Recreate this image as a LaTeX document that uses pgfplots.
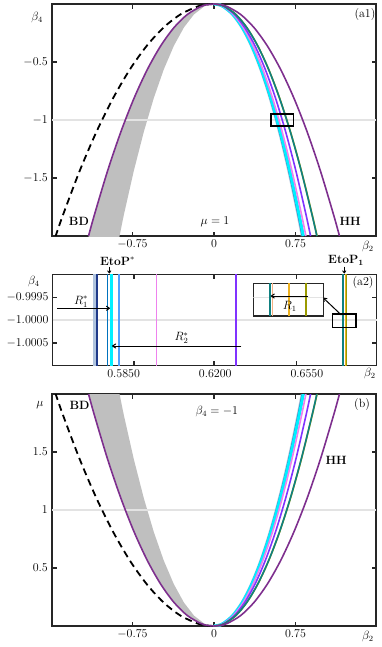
\documentclass[border=0pt]{standalone}
\usepackage{pgfplots}
\pgfplotsset{compat=1.18}
\usepackage{pgfplotstable}
\usetikzlibrary{arrows.meta}
\definecolor{axc}{HTML}{262626}
\definecolor{hhc}{HTML}{7E2F8E}
\definecolor{tealc}{HTML}{0F8080}
\definecolor{bvc}{HTML}{8033FF}
\definecolor{violc}{HTML}{EE82EE}
\definecolor{cyanc}{HTML}{00F0FF}
\definecolor{cornc}{HTML}{4D9FFF}
\definecolor{bluec}{HTML}{0072BD}
\definecolor{navyc}{HTML}{1F3A8A}
\definecolor{lsbc}{HTML}{B0C4DE}
\definecolor{orc}{HTML}{EDB120}
\definecolor{salc}{HTML}{F4B183}
\definecolor{olc}{HTML}{9A9A00}
\definecolor{gridc}{HTML}{E3E3E3}
\definecolor{bandc}{HTML}{BFBFBF}
\newcommand{\fs}{\fontsize{12}{14.4}\selectfont}
\pgfplotsset{
 panel/.style={scale only axis, width=324pt, anchor=south west,
   axis line style={draw=axc,line width=1.3pt},
   tick style={draw=axc,line width=1.3pt}, major tick length=4.5pt, tick align=inside,
   every tick label/.append style={font=\fs}, label style={font=\fs},
   ylabel style={rotate=-90, anchor=center}, xlabel style={anchor=center}},
 lw/.style={line width=1.6pt},
}
\pgfplotstableread{
b4 mu bd hhL grL lsb navy blue cyan corn viol bv teal olive hhR
0 0 0 0 0 0 0 0 0 0 0 0 0 0 0
-0.005625 0.005625 -0.0773 -0.0612 -0.0461 0.0430 0.0431 0.0434 0.0435 0.0437 0.0448 0.0471 0.0502 0.0503 0.0612
-0.0225 0.0225 -0.1545 -0.1224 -0.0923 0.0861 0.0862 0.0868 0.0871 0.0875 0.0896 0.0942 0.1003 0.1005 0.1224
-0.09 0.09 -0.3090 -0.2448 -0.1845 0.1721 0.1725 0.1737 0.1741 0.1750 0.1793 0.1884 0.2006 0.2010 0.2448
-0.2025 0.2025 -0.4635 -0.3672 -0.2768 0.2582 0.2587 0.2605 0.2612 0.2625 0.2689 0.2826 0.3010 0.3015 0.3672
-0.36 0.36 -0.6180 -0.4896 -0.3690 0.3443 0.3449 0.3473 0.3482 0.3500 0.3586 0.3767 0.4013 0.4021 0.4896
-0.5625 0.5625 -0.7725 -0.6120 -0.4613 0.4304 0.4312 0.4342 0.4353 0.4375 0.4482 0.4709 0.5016 0.5026 0.6120
-0.81 0.81 -0.9270 -0.7344 -0.5535 0.5164 0.5174 0.5210 0.5224 0.5250 0.5378 0.5651 0.6019 0.6031 0.7344
-1.1025 1.1025 -1.0815 -0.8568 -0.6458 0.6025 0.6036 0.6078 0.6094 0.6125 0.6275 0.6593 0.7022 0.7036 0.8568
-1.44 1.44 -1.2360 -0.9792 -0.7380 0.6886 0.6899 0.6947 0.6965 0.7000 0.7171 0.7535 0.8026 0.8041 0.9792
-1.8225 1.8225 -1.3905 -1.1016 -0.8303 0.7746 0.7761 0.7815 0.7835 0.7875 0.8068 0.8477 0.9029 0.9046 1.1016
-2 2 -1.4566 -1.1540 -0.8697 0.8115 0.8130 0.8187 0.8208 0.8249 0.8451 0.8880 0.9458 0.9477 1.1540
}\curves
% grey band: outer edge (HH, left) going down, inner edge coming back up
\pgfplotstableread{
x b4 mu
0 0 0
-0.0612 -0.005625 0.005625
-0.1224 -0.0225 0.0225
-0.2448 -0.09 0.09
-0.3672 -0.2025 0.2025
-0.4896 -0.36 0.36
-0.6120 -0.5625 0.5625
-0.7344 -0.81 0.81
-0.8568 -1.1025 1.1025
-0.9792 -1.44 1.44
-1.1016 -1.8225 1.8225
-1.2240 -2.25 2.25
-0.9225 -2.25 2.25
-0.8303 -1.8225 1.8225
-0.7380 -1.44 1.44
-0.6458 -1.1025 1.1025
-0.5535 -0.81 0.81
-0.4613 -0.5625 0.5625
-0.3690 -0.36 0.36
-0.2768 -0.2025 0.2025
-0.1845 -0.09 0.09
-0.0923 -0.0225 0.0225
-0.0461 -0.005625 0.005625
0 0 0
}\band
\begin{document}
\fs
\begin{tikzpicture}
\path (0,0) rectangle (382pt,-647pt);
% ---------------- (a1)
\begin{axis}[panel, at={(52pt,-236pt)}, height=232pt,
  xmin=-1.49, xmax=1.49, ymin=-2, ymax=0,
  xtick={-0.75,0,0.75}, ytick={-1.5,-1,-0.5},
  xlabel={$\beta_2$}, ylabel={$\beta_4$},
  xlabel style={at={(axis description cs:0.975,-0.045)}},
  ylabel style={at={(axis description cs:-0.046,0.94)}}]
\addplot[fill=bandc, draw=none] table[x=x,y=b4]{\band} -- cycle;
\draw[gridc, line width=1.8pt] (axis cs:-1.49,-1) -- (axis cs:1.49,-1);
\addplot[black, line width=1.8pt, dash pattern=on 7pt off 4.5pt, smooth] table[x=bd,y=b4]{\curves};
\addplot[hhc, lw, smooth] table[x=hhL,y=b4]{\curves};
\addplot[lsbc, line width=3pt, smooth] table[x=lsb,y=b4]{\curves};
\addplot[navyc, lw, smooth] table[x=navy,y=b4]{\curves};
\addplot[bluec, lw, smooth] table[x=blue,y=b4]{\curves};
\addplot[cornc, lw, smooth] table[x=corn,y=b4]{\curves};
\addplot[cyanc, line width=3pt, smooth] table[x=cyan,y=b4]{\curves};
\addplot[violc, lw, smooth] table[x=viol,y=b4]{\curves};
\addplot[bvc, lw, smooth] table[x=bv,y=b4]{\curves};
\addplot[olc, lw, smooth] table[x=olive,y=b4]{\curves};
\addplot[tealc, lw, smooth] table[x=teal,y=b4]{\curves};
\addplot[hhc, lw, smooth] table[x=hhR,y=b4]{\curves};
\draw[black, line width=1.6pt] (axis cs:0.526,-0.946) rectangle (axis cs:0.731,-1.052);
\node[font=\fs] at (rel axis cs:0.083,0.062) {\textbf{BD}};
\node[font=\fs] at (rel axis cs:0.920,0.062) {\textbf{HH}};
\node[font=\fs] at (rel axis cs:0.503,0.062) {$\mu=1$};
\node[font=\fs] at (rel axis cs:0.966,0.953) {(a1)};
\end{axis}
% ---------------- (a2): y is (beta4+1) in units of 1e-4
\begin{axis}[panel, at={(52.7pt,-365.7pt)}, height=91.4pt, clip=false,
  xmin=0.5579, xmax=0.6817, ymin=-10, ymax=10,
  xtick={0.5890,0.6195,0.6510}, xticklabels={,,},
  extra x ticks={0.585,0.62,0.655},
  extra x tick labels={$0.5850$,$0.6200$,$0.6550$},
  extra x tick style={major tick length=0pt},
  ytick={-5,0,5}, yticklabels={$-1.0005$,$-1.0000$,$-0.9995$},
  xlabel={$\beta_2$}, ylabel={$\beta_4$},
  xlabel style={at={(axis description cs:0.979,-0.083)}},
  ylabel style={at={(axis description cs:-0.058,0.919)}}]
\draw[gridc, line width=1.8pt] (axis cs:0.5579,0) -- (axis cs:0.6817,0);
\addplot[lsbc, line width=3.5pt] coordinates {(0.5738,-10) (0.5738,10)};
\addplot[navyc, lw] coordinates {(0.5749,-10) (0.5749,10)};
\addplot[bluec, lw] coordinates {(0.5789,-10) (0.5789,10)};
\addplot[cyanc, line width=2.2pt] coordinates {(0.5804,-10) (0.5804,10)};
\addplot[cornc, line width=2.2pt] coordinates {(0.5833,-10) (0.5833,10)};
\addplot[violc, lw] coordinates {(0.5976,-10) (0.5976,10)};
\addplot[bvc, lw] coordinates {(0.6279,-10) (0.6279,10)};
\addplot[tealc, lw] coordinates {(0.6688,-10) (0.6688,10)};
\addplot[orc, lw] coordinates {(0.6699,-10) (0.6699,10)};
\addplot[olc, lw] coordinates {(0.6702,-10) (0.6702,10)};
\draw[black, line width=1pt, -{To[length=4pt,width=5pt]}] (axis cs:0.5597,2.56) -- (axis cs:0.5798,2.56);
\node[font=\fs] at (axis cs:0.5687,4.0) {$R_1^*$};
\draw[black, line width=1pt, -{To[length=4pt,width=5pt]}] (axis cs:0.6300,-5.69) -- (axis cs:0.5806,-5.69);
\node[font=\fs] at (axis cs:0.6071,-4.0) {$R_2^*$};
\draw[black, line width=1.6pt] (axis cs:0.6648,1.31) rectangle (axis cs:0.6739,-1.68);
\draw[black, line width=1pt, -{To[length=4pt,width=5pt]}] (axis cs:0.6682,1.09) -- (axis cs:0.6612,4.88);
\node[font=\fs] at (rel axis cs:0.958,0.905) {(a2)};
\node[font=\fs] at (rel axis cs:0.200,1.149) {$\mathbf{EtoP}^*$};
\draw[black, line width=0.9pt, -{To[length=3pt,width=4pt]}] (rel axis cs:0.1747,1.083) -- (rel axis cs:0.1747,1.01);
\node[font=\fs] at (rel axis cs:0.905,1.149) {$\mathbf{EtoP}_{\mathbf{1}}$};
\draw[black, line width=0.9pt, -{To[length=3pt,width=4pt]}] (rel axis cs:0.900,1.083) -- (rel axis cs:0.900,1.01);
\end{axis}
% inset of (a2)
\begin{axis}[at={(253.3pt,-316pt)}, anchor=south west, scale only axis,
  width=70pt, height=32.7pt, xmin=0, xmax=1, ymin=0, ymax=1, ticks=none,
  axis line style={draw=axc,line width=1.6pt}, axis background/.style={fill=white}]
\draw[gridc, line width=1.4pt] (axis cs:0,0.56) -- (axis cs:1,0.56);
\addplot[tealc, lw] coordinates {(0.239,0) (0.239,1)};
\addplot[salc, lw] coordinates {(0.275,0) (0.275,1)};
\addplot[orc, lw] coordinates {(0.514,0) (0.514,1)};
\addplot[olc, lw] coordinates {(0.749,0) (0.749,1)};
\draw[black, line width=1pt, -{To[length=4pt,width=5pt]}] (axis cs:0.786,0.61) -- (axis cs:0.25,0.61);
\node[font=\fs] at (axis cs:0.52,0.30) {$R_1$};
\end{axis}
% ---------------- (b)
\begin{axis}[panel, at={(52pt,-626pt)}, height=232pt,
  xmin=-1.49, xmax=1.49, ymin=0, ymax=2,
  xtick={-0.75,0,0.75}, ytick={0.5,1,1.5},
  xlabel={$\beta_2$}, ylabel={$\mu$},
  xlabel style={at={(axis description cs:0.975,-0.047)}},
  ylabel style={at={(axis description cs:-0.037,0.953)}}]
\addplot[fill=bandc, draw=none] table[x=x,y=mu]{\band} -- cycle;
\draw[gridc, line width=1.8pt] (axis cs:-1.49,1) -- (axis cs:1.49,1);
\addplot[black, line width=1.8pt, dash pattern=on 7pt off 4.5pt, smooth] table[x=bd,y=mu]{\curves};
\addplot[hhc, lw, smooth] table[x=hhL,y=mu]{\curves};
\addplot[lsbc, line width=3pt, smooth] table[x=lsb,y=mu]{\curves};
\addplot[navyc, lw, smooth] table[x=navy,y=mu]{\curves};
\addplot[bluec, lw, smooth] table[x=blue,y=mu]{\curves};
\addplot[cornc, lw, smooth] table[x=corn,y=mu]{\curves};
\addplot[cyanc, line width=3pt, smooth] table[x=cyan,y=mu]{\curves};
\addplot[violc, lw, smooth] table[x=viol,y=mu]{\curves};
\addplot[bvc, lw, smooth] table[x=bv,y=mu]{\curves};
\addplot[olc, lw, smooth] table[x=olive,y=mu]{\curves};
\addplot[tealc, lw, smooth] table[x=teal,y=mu]{\curves};
\addplot[hhc, lw, smooth] table[x=hhR,y=mu]{\curves};
\node[font=\fs] at (rel axis cs:0.085,0.953) {\textbf{BD}};
\node[font=\fs] at (rel axis cs:0.509,0.925) {$\beta_4=-1$};
\node[font=\fs] at (rel axis cs:0.877,0.716) {\textbf{HH}};
\node[font=\fs] at (rel axis cs:0.957,0.953) {(b)};
\end{axis}
\end{tikzpicture}
\end{document}
